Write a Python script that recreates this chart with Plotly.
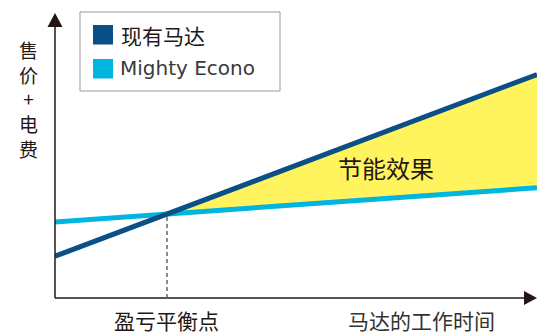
import plotly.graph_objects as go

# ---- data ----
hours = [0, 10]                      # motor operating time (arbitrary units)
existing_cost = [1.4, 7.5]           # 现有马达: price + electricity
mighty_cost = [2.55, 3.7]            # Mighty Econo: price + electricity
series_names = ["现有马达", "Mighty Econo"]
y_label = "售价+电费"
x_label = "马达的工作时间"
breakeven_label = "盈亏平衡点"
saving_label = "节能效果"

DARK = "#0B4F87"
LIGHT = "#00B5E0"
YELLOW = "#FFF35E"
TXT = "#231815"
FONT = "Noto Sans CJK SC"

# break-even from the two lines
s1 = (existing_cost[1] - existing_cost[0]) / (hours[1] - hours[0])
s2 = (mighty_cost[1] - mighty_cost[0]) / (hours[1] - hours[0])
be_x = (mighty_cost[0] - existing_cost[0]) / (s1 - s2)
be_y = existing_cost[0] + s1 * be_x

fig = go.Figure()
# saving area
fig.add_trace(go.Scatter(x=[be_x, hours[1]], y=[be_y, mighty_cost[1]], mode="lines",
                         line=dict(width=0, color=LIGHT), hoverinfo="skip", showlegend=False))
fig.add_trace(go.Scatter(x=[be_x, hours[1]], y=[be_y, existing_cost[1]], mode="lines",
                         line=dict(width=0, color=DARK), fill="tonexty", fillcolor=YELLOW,
                         hoverinfo="skip", showlegend=False))
fig.add_trace(go.Scatter(x=hours, y=mighty_cost, mode="lines", name=series_names[1],
                         line=dict(width=5, color=LIGHT), showlegend=False))
fig.add_trace(go.Scatter(x=hours, y=existing_cost, mode="lines", name=series_names[0],
                         line=dict(width=5, color=DARK), showlegend=False))

W, H = 537, 335
L, B = 55, 37
PW, PH = W - L, H - B

def px(xp):  # pixel x -> paper
    return (xp - L) / PW

def py(yp):  # pixel y -> paper
    return (PH - yp) / PH

shapes = []
# axes
shapes.append(dict(type="line", xref="paper", yref="paper", x0=0, x1=0, y0=0, y1=py(26),
                   line=dict(color=TXT, width=1.5)))
shapes.append(dict(type="line", xref="paper", yref="paper", x0=0, x1=px(526), y0=0, y1=0,
                   line=dict(color=TXT, width=1.5)))
# arrow heads
shapes.append(dict(type="path", xref="paper", yref="paper", xsizemode="pixel", ysizemode="pixel",
                   xanchor=0, yanchor=1, path="M -7.5 -27 L 7.5 -27 L 0 -13 Z",
                   fillcolor=TXT, line=dict(width=0)))
shapes.append(dict(type="path", xref="paper", yref="paper", xsizemode="pixel", ysizemode="pixel",
                   xanchor=1, yanchor=0, path="M -13 7 L -13 -7 L 0 0 Z",
                   fillcolor=TXT, line=dict(width=0)))
# break-even dashed line
shapes.append(dict(type="line", xref="x", yref="y", x0=be_x, x1=be_x, y0=0, y1=be_y,
                   line=dict(color="#666666", width=1.5, dash="4px,3px")))
# legend box
shapes.append(dict(type="rect", xref="paper", yref="paper", x0=px(80), x1=px(280), y0=py(91), y1=py(12),
                   line=dict(color="#999999", width=1), fillcolor="white"))
shapes.append(dict(type="rect", xref="paper", yref="paper", x0=px(93), x1=px(113), y0=py(44.5), y1=py(25),
                   line=dict(width=0), fillcolor=DARK))
shapes.append(dict(type="rect", xref="paper", yref="paper", x0=px(93), x1=px(113), y0=py(78.5), y1=py(59),
                   line=dict(width=0), fillcolor=LIGHT))

ann = []
ann.append(dict(xref="paper", yref="paper", x=px(119), y=py(35), text=series_names[0], showarrow=False,
                xanchor="left", yanchor="middle", font=dict(family=FONT, size=21, color=TXT)))
ann.append(dict(xref="paper", yref="paper", x=px(118), y=py(68), text=series_names[1], showarrow=False,
                xanchor="left", yanchor="middle",
                font=dict(family="DejaVu Sans", size=20, color="#3a3a3a")))
ylab_html = "<br>".join(ch for ch in y_label)
ann.append(dict(xref="paper", yref="paper", x=px(28), y=py(99), text=ylab_html, showarrow=False,
                xanchor="center", yanchor="middle", align="center",
                font=dict(family=FONT, size=19, color=TXT)))
ann.append(dict(xref="x", yref="paper", x=be_x, y=py(319.5), text=breakeven_label, showarrow=False,
                xanchor="center", yanchor="middle",
                font=dict(family=FONT, size=21, color=TXT)))
ann.append(dict(xref="paper", yref="paper", x=px(421), y=py(319.5), text=x_label, showarrow=False,
                xanchor="center", yanchor="middle",
                font=dict(family=FONT, size=21, color="#333333")))
ann.append(dict(xref="paper", yref="paper", x=px(386), y=py(167), text=saving_label, showarrow=False,
                xanchor="center", yanchor="middle", font=dict(family=FONT, size=24, color=TXT)))

fig.update_layout(
    width=W, height=H,
    margin=dict(l=L, r=0, t=0, b=B),
    paper_bgcolor="white", plot_bgcolor="white",
    xaxis=dict(range=[0, 10], visible=False, fixedrange=True),
    yaxis=dict(range=[0, 10], visible=False, fixedrange=True),
    shapes=shapes, annotations=ann, showlegend=False,
)
fig.write_html("out.html")
